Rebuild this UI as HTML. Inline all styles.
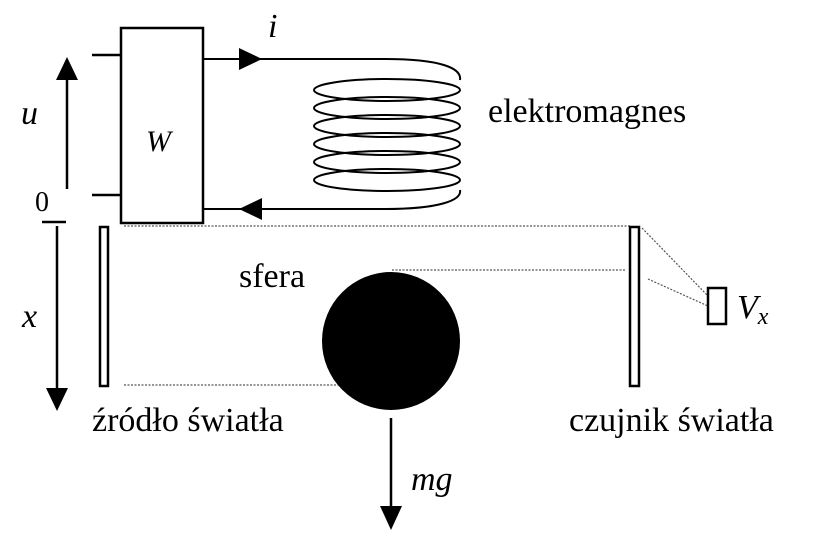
<!DOCTYPE html>
<html><head><meta charset="utf-8"><style>
html,body{margin:0;padding:0;background:#fff}
svg{display:block;font-family:"Liberation Serif","Times New Roman",serif}
text{font-family:"Liberation Serif","Times New Roman",serif;fill:#000}
</style></head><body>
<svg width="816" height="552" viewBox="0 0 816 552" font-family="Liberation Serif, serif">
<g>
<rect x="121" y="28" width="82" height="195" fill="none" stroke="#000" stroke-width="2.5"/>
<text x="146" y="151" font-size="30" font-style="italic" font-family="Liberation Serif, serif">W</text>
<line x1="92" y1="55" x2="121" y2="55" stroke="#000" stroke-width="2.5"/>
<line x1="92" y1="195" x2="121" y2="195" stroke="#000" stroke-width="2.5"/>
</g>
<g>
<line x1="67" y1="189" x2="67" y2="75" stroke="#000" stroke-width="2.5"/>
<polygon points="67,57 56,80 78,80" fill="#000"/>
<text x="21" y="124" font-size="34" font-style="italic" font-family="Liberation Serif, serif">u</text>
<text x="35" y="211" font-size="28" font-family="Liberation Serif, serif">0</text>
<line x1="42" y1="222" x2="66" y2="222" stroke="#000" stroke-width="2.5"/>
</g>
<g>
<line x1="57" y1="226" x2="57" y2="392" stroke="#000" stroke-width="2.5"/>
<polygon points="57,411 46,388 68,388" fill="#000"/>
<text x="22" y="327" font-size="34" font-style="italic" font-family="Liberation Serif, serif">x</text>
</g>
<g>
<path d="M203,59 H385 C440,59 462,68 460,80" fill="none" stroke="#000" stroke-width="2"/>
<polygon points="262,59 239,48 239,70" fill="#000"/>
<text x="268" y="37" font-size="34" font-style="italic" font-family="Liberation Serif, serif">i</text>
<path d="M203,209 H385 C440,209 462,200 460,190" fill="none" stroke="#000" stroke-width="2"/>
<polygon points="239,209 262,198 262,220" fill="#000"/>
</g>
<g fill="none" stroke="#000" stroke-width="2">
<ellipse cx="387" cy="90" rx="73" ry="11"/>
<ellipse cx="387" cy="108" rx="73" ry="11"/>
<ellipse cx="387" cy="126" rx="73" ry="11"/>
<ellipse cx="387" cy="144" rx="73" ry="11"/>
<ellipse cx="387" cy="162" rx="73" ry="11"/>
<ellipse cx="387" cy="180" rx="73" ry="11"/>
</g>
<text x="488" y="122" font-size="34" font-family="Liberation Serif, serif">elektromagnes</text>
<g stroke="#555" stroke-width="1.2" stroke-dasharray="2,1.5">
<line x1="124" y1="226" x2="630" y2="226"/>
<line x1="392" y1="270" x2="625" y2="270"/>
<line x1="124" y1="385" x2="338" y2="385"/>
<line x1="642" y1="228" x2="708" y2="296"/>
<line x1="648" y1="279" x2="708" y2="306"/>
</g>
<rect x="100" y="227" width="8" height="159" fill="#fff" stroke="#000" stroke-width="2.5"/>
<rect x="630" y="227" width="9" height="159" fill="#fff" stroke="#000" stroke-width="2.5"/>
<rect x="708" y="288" width="18" height="36" fill="#fff" stroke="#000" stroke-width="2.5"/>
<text x="737" y="318" font-size="34" font-style="italic" font-family="Liberation Serif, serif">V<tspan font-size="24" dy="6">x</tspan></text>
<circle cx="391" cy="341" r="69" fill="#000"/>
<text x="239" y="287" font-size="34" font-family="Liberation Serif, serif">sfera</text>
<g>
<line x1="391" y1="418" x2="391" y2="510" stroke="#000" stroke-width="2.5"/>
<polygon points="391,530 380,506 402,506" fill="#000"/>
<text x="411" y="490" font-size="34" font-style="italic" font-family="Liberation Serif, serif">mg</text>
</g>
<text x="92" y="431" font-size="34" font-family="Liberation Serif, serif">źródło światła</text>
<text x="569" y="431" font-size="34" font-family="Liberation Serif, serif">czujnik światła</text>
</svg>
</body></html>
